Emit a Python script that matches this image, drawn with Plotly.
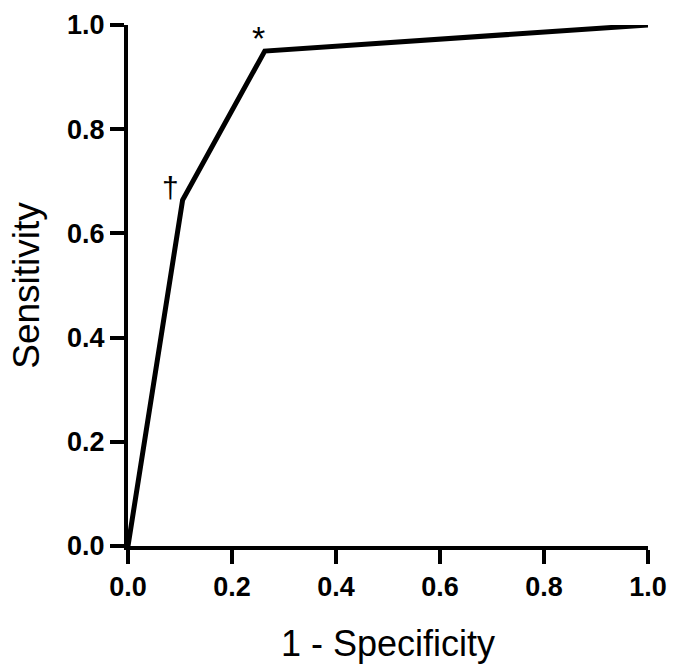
import plotly.graph_objects as go

# ROC curve points
fpr = [0.0, 0.105, 0.263, 1.0]
tpr = [0.0, 0.664, 0.950, 1.0]

# markers placed next to the two cut-off points
mark_x = [0.105, 0.263]
mark_y = [0.664, 0.950]
mark_text = ["\u2020", "*"]

tick_vals = [0.0, 0.2, 0.4, 0.6, 0.8, 1.0]
tick_text = ["0.0", "0.2", "0.4", "0.6", "0.8", "1.0"]

FONT = "Liberation Sans, Arial, sans-serif"

fig = go.Figure()
fig.add_trace(go.Scatter(
    x=fpr, y=tpr,
    mode="lines",
    line=dict(color="black", width=5),
    showlegend=False,
    hoverinfo="skip",
))

annotations = []
for mx, my, mt in zip(mark_x, mark_y, mark_text):
    if mt == "*":
        annotations.append(dict(x=mx, y=my, text=mt, showarrow=False,
                                xanchor="center", yanchor="bottom", xshift=-6, yshift=-8,
                                font=dict(size=34, family=FONT, color="black")))
    else:
        annotations.append(dict(x=mx, y=my, text=mt, showarrow=False,
                                xanchor="right", yanchor="bottom", xshift=-2, yshift=-6,
                                font=dict(size=30, family=FONT, color="black")))

axis_common = dict(
    range=[0, 1],
    tickvals=tick_vals,
    ticktext=tick_text,
    showline=True,
    linecolor="black",
    linewidth=4,
    ticks="outside",
    ticklen=14,
    tickwidth=4,
    tickcolor="black",
    showgrid=False,
    zeroline=False,
    automargin=False,
    tickfont=dict(size=27, family=FONT, color="black", weight="bold"),
)

fig.update_layout(
    width=674,
    height=671,
    margin=dict(l=128, r=26, t=25, b=125),
    paper_bgcolor="white",
    plot_bgcolor="white",
    xaxis=dict(axis_common, title=dict(text="1 - Specificity", standoff=30,
                                       font=dict(size=36, family=FONT, color="black"))),
    yaxis=dict(axis_common, title=dict(text="Sensitivity", standoff=17,
                                       font=dict(size=37, family=FONT, color="black"))),
    annotations=annotations,
)

fig.write_html("out.html", config={"displayModeBar": False},
               post_script="document.body.style.margin='0px';")
